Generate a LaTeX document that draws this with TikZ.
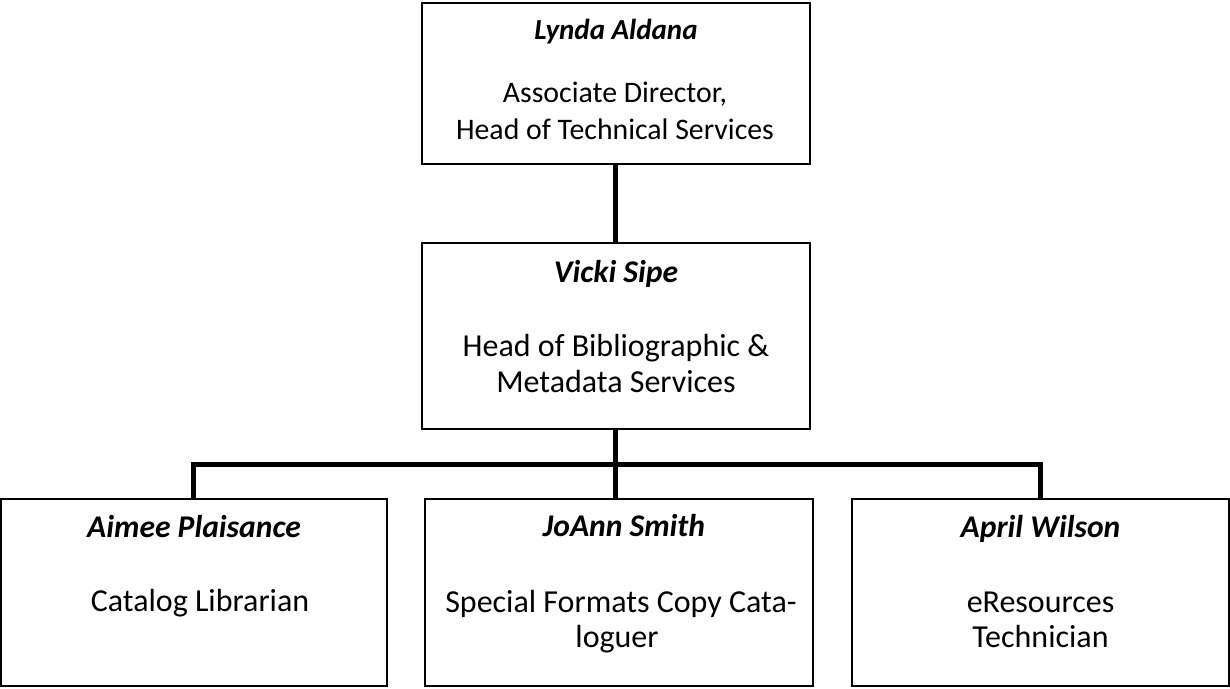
\documentclass[tikz,border=0pt]{standalone}
\usepackage{fontspec}
\setmainfont{Carlito}
\begin{document}
\begin{tikzpicture}[x=1pt,y=-1pt,
  box/.style={draw=black, line width=2pt, rectangle, inner sep=0pt, outer sep=0pt},
  conn/.style={draw=black, line width=5pt, line join=miter},
  namet/.style={anchor=base, inner sep=0pt, font=\fontsize{31.6}{38}\selectfont\bfseries\itshape},
  bodyt/.style={anchor=base, inner sep=0pt, font=\fontsize{32}{38}\selectfont},
  topnamet/.style={namet, font=\fontsize{29}{35}\selectfont\bfseries\itshape},
  topbodyt/.style={bodyt, font=\fontsize{29.8}{36}\selectfont}]
\useasboundingbox[fill=white] (0,0) rectangle (1230,688);
% boxes
\node[box, minimum width=388pt, minimum height=161pt] (top) at (616,83.5) {};
\node[box, minimum width=388pt, minimum height=186pt] (mid) at (616,336) {};
\node[box, minimum width=386pt, minimum height=187pt] (left) at (194,592.5) {};
\node[box, minimum width=388pt, minimum height=187pt] (center) at (619,592.5) {};
\node[box, minimum width=377pt, minimum height=187pt] (right) at (1040.5,592.5) {};
% texts
\node[topnamet] (topname) at (616,39) {Lynda Aldana};
\node[topbodyt] (topl1) at (615,102) {Associate Director,};
\node[topbodyt] (topl2) at (615,139) {Head of Technical Services};
\node[namet] (midname) at (616,282) {Vicki Sipe};
\node[bodyt] (midl1) at (616,356) {Head of Bibliographic \&};
\node[bodyt] (midl2) at (616,392) {Metadata Services};
\node[namet] (leftname) at (194,537) {Aimee Plaisance};
\node[bodyt] (leftl1) at (200,611) {Catalog Librarian};
\node[namet] (centername) at (624,536) {JoAnn Smith};
\node[bodyt] (centerl1) at (621,612) {Special Formats Copy Cata-};
\node[bodyt] (centerl2) at (617,647) {loguer};
\node[namet] (rightname) at (1040.5,537) {April Wilson};
\node[bodyt] (rightl1) at (1040.5,612) {eResources};
\node[bodyt] (rightl2) at (1040.5,647) {Technician};
% connectors
\coordinate (bus) at (615,464);
\draw[conn] (top.south -| bus) -- (mid.north -| bus);
\draw[conn] (mid.south -| bus) -- (bus);
\draw[conn] (left.north -| 193,0) |- (bus) -| (right.north -| 1040,0);
\draw[conn] (bus) -- (center.north -| bus);
\end{tikzpicture}
\end{document}
